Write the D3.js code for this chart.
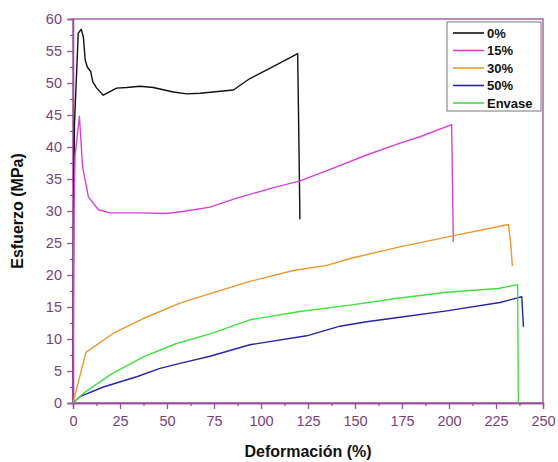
<!DOCTYPE html>
<html>
<head>
<meta charset="utf-8">
<script src="https://cdn.jsdelivr.net/npm/d3@7"></script>
<style>
  body { margin: 0; background: #fff; }
  svg { display: block; font-family: Arial, "Liberation Sans", sans-serif; }
</style>
</head>
<body>
<div id="chart"></div>
<script>
// series names and colours
const seriesNames = ["0%", "15%", "30%", "50%", "Envase"];
const seriesColors = ["#111111", "#db3fdb", "#f0962c", "#2626a8", "#3fe23f"];

// [deformacion %, esfuerzo MPa]
const s0 = [[0,0],[0.3,30],[0.8,43.7],[2.8,57.8],[4.4,58.4],[5.5,57.2],[6.5,53.6],[7.6,52.5],[9.4,51.8],[10.5,50.2],
  [12.6,49.2],[16.1,48.1],[23.2,49.2],[28.6,49.3],[35.6,49.5],[42.7,49.3],[53.4,48.6],[60.5,48.3],[67.6,48.4],
  [85.3,48.9],[94.1,50.7],[99.5,51.5],[109.2,53],[119.5,54.6],[120.2,40],[120.7,28.7]];
const s15 = [[0,0],[0.5,30],[1.1,38.7],[3.4,44.8],[5.1,36.9],[8.2,32.2],[13.5,30.2],[19.7,29.7],[35,29.7],
  [49.8,29.6],[60,30],[72.9,30.6],[87.1,32],[104.8,33.5],[120.7,34.7],[138.5,36.7],[156.2,38.75],[173.9,40.6],
  [184.6,41.6],[201.4,43.5],[202.3,25.2]];
const s30 = [[0,0],[6.9,7.9],[21.5,10.9],[37.4,13.2],[56.9,15.6],[72.9,17.1],[94.1,19],[117.2,20.7],[135,21.5],
  [149.1,22.7],[173.9,24.4],[200,26],[231.6,27.9],[232.8,25],[233.7,21.4]];
const s50 = [[0,0],[3.7,1],[16.1,2.5],[33.9,4.1],[46.3,5.4],[56.9,6.2],[72.9,7.3],[94.1,9.1],[124.3,10.5],
  [142,12],[156.2,12.7],[173.9,13.4],[198.8,14.4],[227.1,15.7],[238.7,16.6],[239.6,11.9]];
const sEnv = [[0,0],[5.5,1.5],[19.7,4.4],[37.4,7.2],[55.1,9.3],[72.9,10.8],[94.1,13],[120.7,14.3],[147.3,15.3],
  [173.9,16.4],[198.8,17.3],[226.2,17.9],[236.5,18.5],[236.9,0]];
const allSeries = [s0, s15, s30, s50, sEnv];

const xTicks = [0, 25, 50, 75, 100, 125, 150, 175, 200, 225, 250];
const yTicks = [0, 5, 10, 15, 20, 25, 30, 35, 40, 45, 50, 55, 60];

const W = 558, H = 462;
const margin = {top: 19, right: 15, bottom: 59, left: 73};
const width = W - margin.left - margin.right;
const height = H - margin.top - margin.bottom;
const axisColor = "#9a4f9a";
const labelColor = "#7c3f7c";

const svg = d3.select("#chart").append("svg")
  .attr("width", W).attr("height", H);
const g = svg.append("g").attr("transform", `translate(${margin.left},${margin.top})`);

const x = d3.scaleLinear().domain([0, 250]).range([0, width]);
const y = d3.scaleLinear().domain([0, 60]).range([height, 0]);

// frame
g.append("rect")
  .attr("width", width).attr("height", height)
  .attr("fill", "none").attr("stroke", axisColor).attr("stroke-width", 1.3);

// minor ticks
const xMinor = d3.range(12.5, 250, 25);
const yMinor = d3.range(2.5, 60, 5);

const xAxis = g.append("g").attr("transform", `translate(0,${height})`)
  .call(d3.axisBottom(x).tickValues(xTicks).tickSize(6).tickPadding(7));
const xAxisMinor = g.append("g").attr("transform", `translate(0,${height})`)
  .call(d3.axisBottom(x).tickValues(xMinor).tickSize(3).tickFormat(""));
const yAxis = g.append("g")
  .call(d3.axisLeft(y).tickValues(yTicks).tickSize(6).tickPadding(5));
const yAxisMinor = g.append("g")
  .call(d3.axisLeft(y).tickValues(yMinor).tickSize(3).tickFormat(""));

[xAxis, xAxisMinor, yAxis, yAxisMinor].forEach(a => {
  a.select(".domain").attr("stroke", axisColor).attr("stroke-width", 1.3);
  a.selectAll(".tick line").attr("stroke", axisColor).attr("stroke-width", 1.3);
  a.selectAll(".tick text").attr("fill", labelColor).style("font-size", "14.5px");
});

// data lines
const line = d3.line().x(d => x(d[0])).y(d => y(d[1]));
g.selectAll(".series")
  .data(allSeries)
  .enter().append("path")
  .attr("class", "series")
  .attr("d", d => line(d))
  .attr("fill", "none")
  .attr("stroke", (d, i) => seriesColors[i])
  .attr("stroke-width", 1.4)
  .attr("stroke-linejoin", "round");

// legend
const legend = svg.append("g").attr("transform", "translate(447,22)");
legend.append("rect")
  .attr("width", 94).attr("height", 89)
  .attr("fill", "#fff").attr("stroke", "#777").attr("stroke-width", 1);
seriesNames.forEach((name, i) => {
  const ly = 11 + i * 17.5;
  legend.append("line")
    .attr("x1", 6).attr("x2", 37).attr("y1", ly).attr("y2", ly)
    .attr("stroke", seriesColors[i]).attr("stroke-width", 1.6);
  legend.append("text")
    .attr("x", 40).attr("y", ly).attr("dy", "0.35em")
    .style("font-size", "13px").style("font-weight", "bold")
    .attr("fill", "#111").text(name);
});

// axis titles
svg.append("text")
  .attr("x", margin.left + width / 2).attr("y", 451)
  .attr("dy", "0.35em").attr("text-anchor", "middle")
  .style("font-size", "16px").style("font-weight", "bold").attr("fill", "#111")
  .text("Deformación (%)");
svg.append("text")
  .attr("transform", `translate(17,${margin.top + height / 2}) rotate(-90)`)
  .attr("dy", "0.35em").attr("text-anchor", "middle")
  .style("font-size", "16px").style("font-weight", "bold").attr("fill", "#111")
  .text("Esfuerzo (MPa)");
</script>
</body>
</html>
